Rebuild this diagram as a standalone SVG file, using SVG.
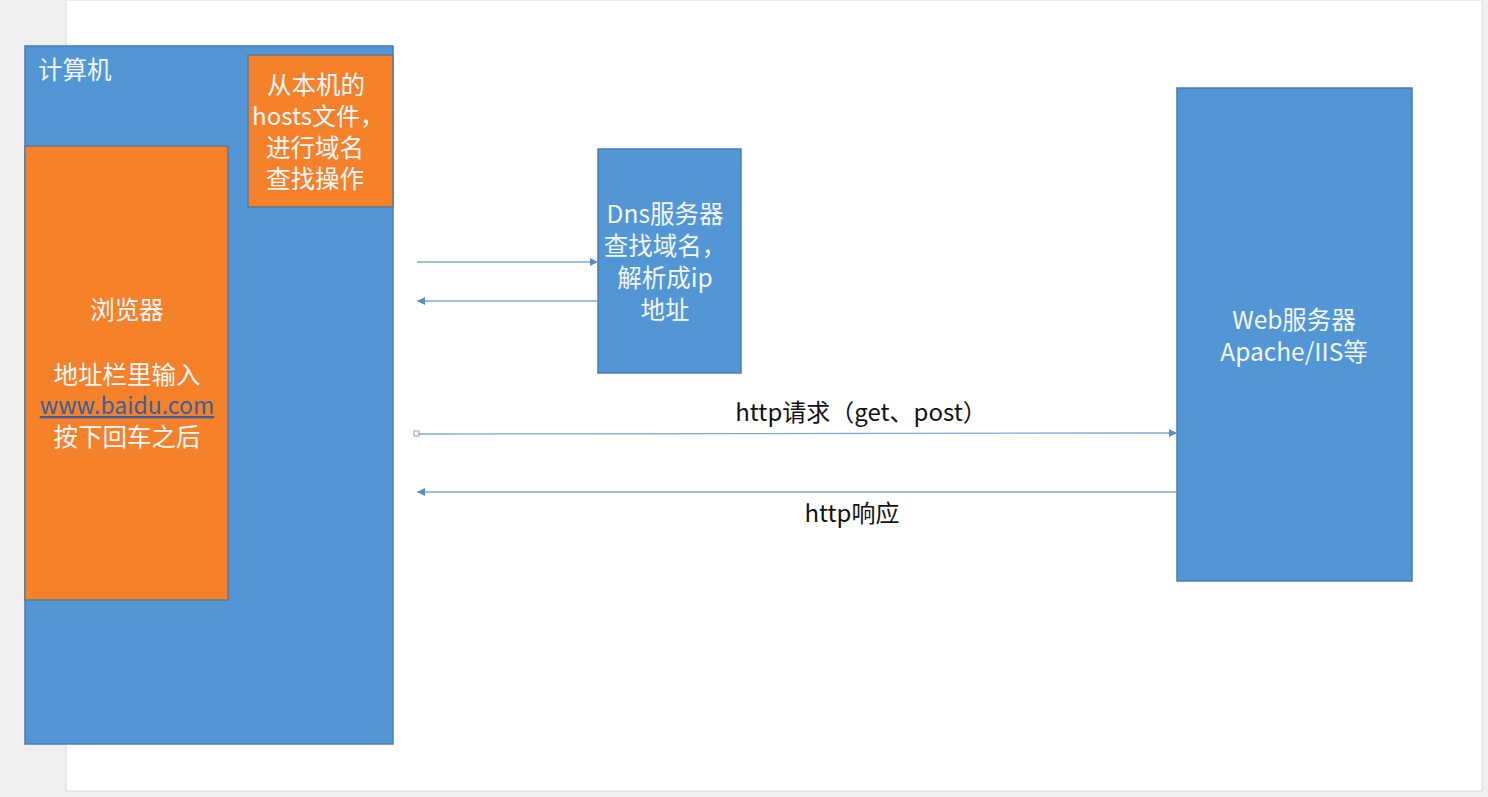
<svg xmlns="http://www.w3.org/2000/svg" width="1488" height="797" viewBox="0 0 1488 797">
<defs>
<style>
.blue{fill:#5296d5;stroke:#4a7eb0;stroke-width:1.5}
.orange{fill:#f5822a;stroke:#5f7a96;stroke-width:1.5}
.wt{fill:#f3f6fb;font-family:"Noto Sans CJK SC","Noto Sans",sans-serif;font-size:24.5px;font-weight:400;text-anchor:middle}
.bt{fill:#111;font-family:"Noto Sans CJK SC","Noto Sans",sans-serif;font-size:24px;font-weight:400;text-anchor:middle}
.ln{stroke:#7fa8d4;stroke-width:1.3;fill:none}
</style>
<marker id="ah" viewBox="0 0 10 10" refX="10" refY="5" markerWidth="8" markerHeight="8" markerUnits="userSpaceOnUse" orient="auto-start-reverse">
<path d="M0,0 L10,5 L0,10 Z" fill="#5a8cc4"/>
</marker>
</defs>
<rect x="0" y="0" width="1488" height="797" fill="#efefef"/>
<rect x="66" y="0" width="1416" height="791" fill="#ffffff" stroke="#dcdcdc" stroke-width="1"/>
<g id="computer">
<rect class="blue" x="25" y="46" width="368" height="698"/>
<text x="38" y="79" class="wt" style="text-anchor:start">计算机</text>
</g>
<g id="hosts">
<rect class="orange" x="248" y="55" width="145" height="152"/>
<text class="wt" x="316" y="94">从本机的</text>
<text class="wt" x="318" y="125" style="font-size:24px">hosts文件，</text>
<text class="wt" x="315" y="157">进行域名</text>
<text class="wt" x="315" y="188">查找操作</text>
</g>
<g id="browser">
<rect class="orange" x="25" y="146" width="203" height="454"/>
<text class="wt" x="127" y="319">浏览器</text>
<text class="wt" x="127" y="384">地址栏里输入</text>
<text class="wt" x="127" y="414" style="fill:#3a5f9a;text-decoration:underline;font-size:23px">www.baidu.com</text>
<text class="wt" x="127" y="446">按下回车之后</text>
</g>
<g id="dns">
<rect class="blue" x="598" y="149" width="143" height="224"/>
<text class="wt" x="665" y="223">Dns服务器</text>
<text class="wt" x="665" y="255">查找域名，</text>
<text class="wt" x="665" y="287">解析成ip</text>
<text class="wt" x="665" y="319">地址</text>
</g>
<g id="web">
<rect class="blue" x="1177" y="88" width="235" height="493"/>
<text class="wt" x="1294" y="329">Web服务器</text>
<text class="wt" x="1294" y="361">Apache/IIS等</text>
</g>
<g id="connectors">
<line class="ln" x1="417" y1="262" x2="598" y2="262" marker-end="url(#ah)"/>
<line class="ln" x1="598" y1="301" x2="417" y2="301" marker-end="url(#ah)"/>
<line class="ln" x1="419" y1="434" x2="1177" y2="433" marker-end="url(#ah)"/>
<rect x="414" y="431" width="5" height="5" fill="#fff" stroke="#a0a0a0" stroke-width="1"/>
<line class="ln" x1="1177" y1="492" x2="417" y2="492" marker-end="url(#ah)"/>
<text class="bt" x="861" y="421">http请求（get、post）</text>
<text class="bt" x="852" y="522">http响应</text>
</g>
</svg>
